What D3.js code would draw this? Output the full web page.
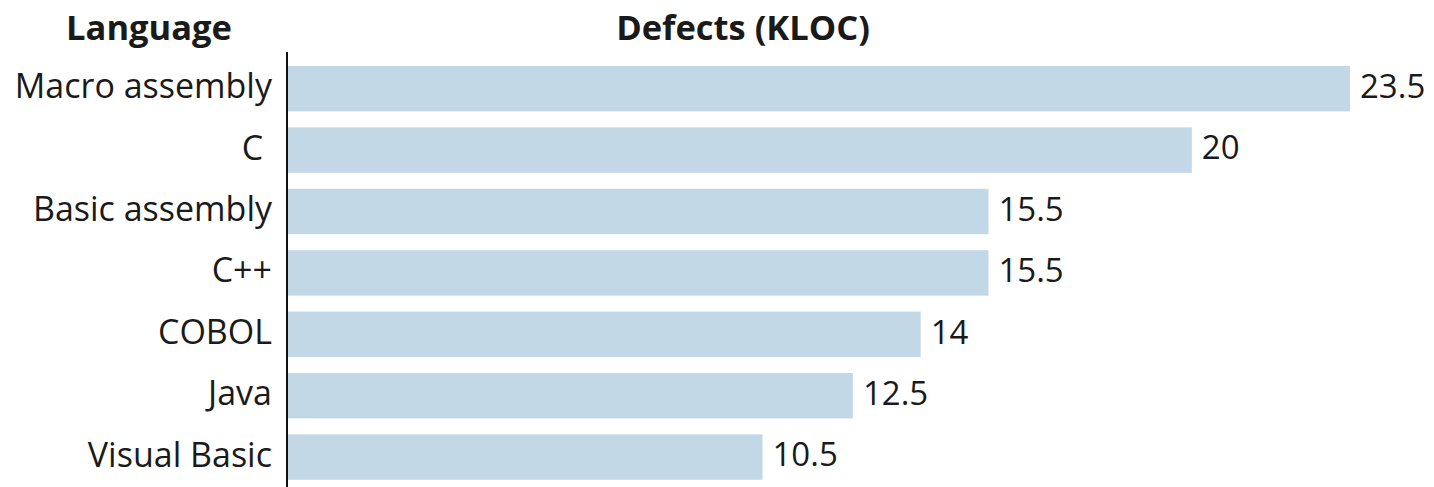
<!DOCTYPE html>
<html>
<head>
<meta charset="utf-8">
<script src="https://cdn.jsdelivr.net/npm/d3@7/dist/d3.min.js"></script>
<style>
  html, body { margin: 0; padding: 0; background: #fff; }
  svg { display: block; }
  text { font-family: "Open Sans", "Noto Sans", sans-serif; fill: #1a1a1a; white-space: pre; }
</style>
</head>
<body>
<svg id="chart" width="1434" height="487"></svg>
<script>
// Defect density by programming language (defects per KLOC)
const languages = ["Macro assembly", "C ", "Basic assembly", "C++", "COBOL", "Java", "Visual Basic"];
const defects = [23.5, 20, 15.5, 15.5, 14, 12.5, 10.5];
const headers = ["Language", "Defects (KLOC)"];

const W = 1434, H = 487;
const svg = d3.select("#chart");

const x = d3.scaleLinear().domain([0, 23.5]).range([288, 1350]);
const y = d3.scaleBand()
  .domain(languages)
  .range([58, 58 + 7 * 61.4])
  .paddingInner(0.26)
  .paddingOuter(0.13);

const rows = languages.map((name, i) => ({ name, value: defects[i] }));

// bars
svg.append("g").selectAll("rect")
  .data(rows)
  .join("rect")
  .attr("x", x(0))
  .attr("y", d => y(d.name))
  .attr("width", d => x(d.value) - x(0))
  .attr("height", y.bandwidth())
  .attr("fill", "#c2d8e6");

// vertical axis line
svg.append("line")
  .attr("x1", 287).attr("x2", 287)
  .attr("y1", 52).attr("y2", H)
  .attr("stroke", "#111").attr("stroke-width", 2);

// category labels
svg.append("g").selectAll("text")
  .data(rows)
  .join("text")
  .attr("x", 272)
  .attr("y", d => y(d.name) + y.bandwidth() / 2)
  .attr("dy", "0.28em")
  .attr("text-anchor", "end")
  .attr("xml:space", "preserve")
  .style("font-size", "34px")
  .text(d => d.name);

// value labels
svg.append("g").selectAll("text")
  .data(rows)
  .join("text")
  .attr("x", d => x(d.value) + 10)
  .attr("y", d => y(d.name) + y.bandwidth() / 2)
  .attr("dy", "0.28em")
  .attr("text-anchor", "start")
  .style("font-size", "33px")
  .text(d => d.value);

// column headers
svg.append("text")
  .attr("x", 149).attr("y", 40)
  .attr("text-anchor", "middle")
  .style("font-size", "34.5px").style("font-weight", "bold")
  .text(headers[0]);
svg.append("text")
  .attr("x", 743).attr("y", 40)
  .attr("text-anchor", "middle")
  .style("font-size", "34.5px").style("font-weight", "bold")
  .text(headers[1]);
</script>
</body>
</html>
